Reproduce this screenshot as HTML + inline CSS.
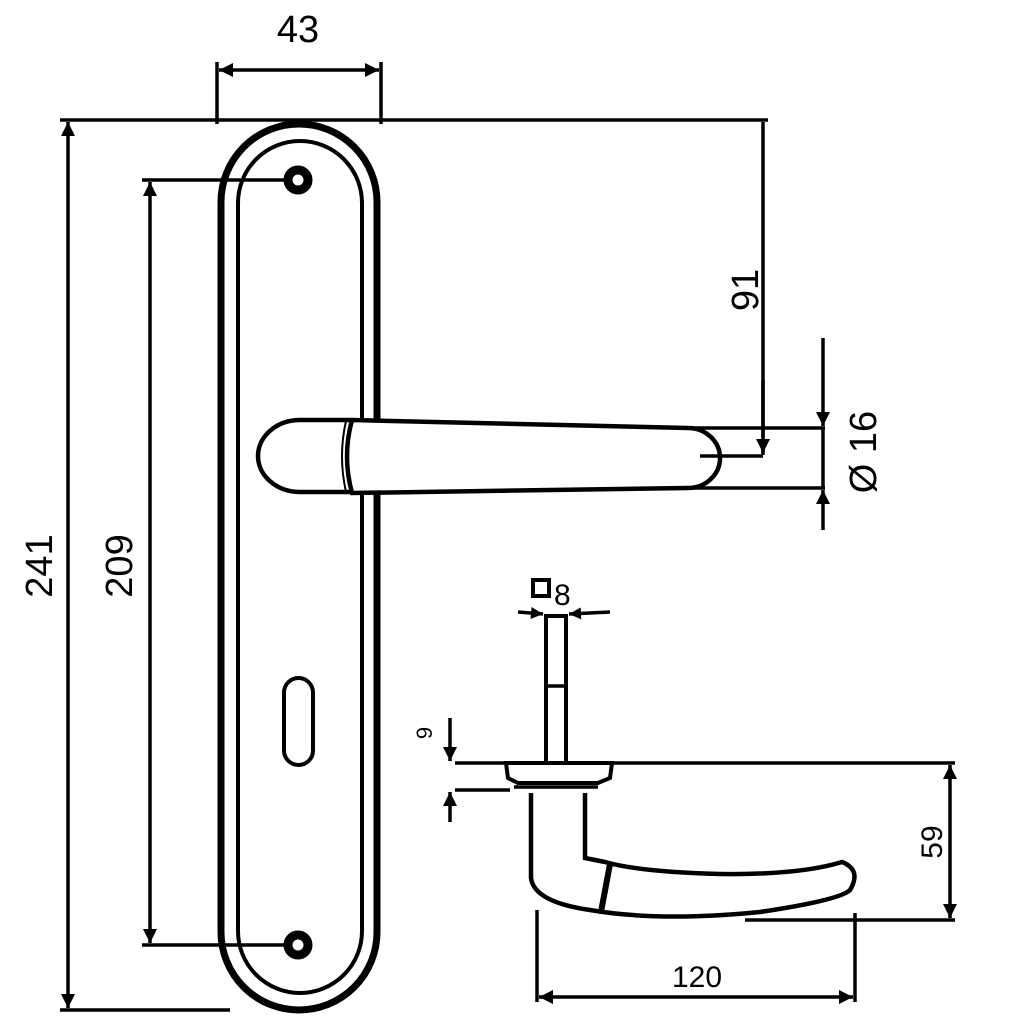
<!DOCTYPE html>
<html><head><style>body{margin:0;background:#fff}svg{display:block}</style></head><body>
<svg width="1024" height="1024" viewBox="0 0 1024 1024" xmlns="http://www.w3.org/2000/svg" font-family="Liberation Sans, sans-serif">
<defs>
<marker id="a" viewBox="0 0 10 10" refX="10" refY="5" markerWidth="14" markerHeight="12" orient="auto-start-reverse" markerUnits="userSpaceOnUse"><path d="M0,0 L10,5 L0,10z" fill="#000"/></marker>
<marker id="b" viewBox="0 0 10 10" refX="10" refY="5" markerWidth="28" markerHeight="14" orient="auto-start-reverse" markerUnits="userSpaceOnUse"><path d="M0,0 L10,5 L0,10z" fill="#000"/></marker>
</defs>
<g stroke="#000" fill="none">
<rect x="221" y="124" width="156" height="886" rx="78" stroke-width="7"/>
<rect x="238" y="141" width="124" height="852" rx="62" stroke-width="4"/>
<circle cx="298" cy="180" r="10" stroke-width="9"/>
<circle cx="298" cy="945" r="10" stroke-width="9"/>
<rect x="284" y="678" width="29" height="87" rx="14.5" stroke-width="4"/>
<g stroke-width="3.5">
<line x1="217" y1="62" x2="217" y2="124"/><line x1="381" y1="62" x2="381" y2="124"/>
<line x1="219" y1="70" x2="379" y2="70" marker-start="url(#b)" marker-end="url(#b)"/>
<line x1="60" y1="120" x2="768" y2="120"/>
<line x1="60" y1="1010" x2="230" y2="1010"/>
<line x1="68" y1="122" x2="68" y2="1008" marker-start="url(#b)" marker-end="url(#b)"/>
<line x1="142" y1="180" x2="290" y2="180"/>
<line x1="142" y1="945" x2="290" y2="945"/>
<line x1="150" y1="182" x2="150" y2="943" marker-start="url(#b)" marker-end="url(#b)"/>
<line x1="763" y1="122" x2="763" y2="455" />
<line x1="763" y1="380" x2="763" y2="453" marker-end="url(#b)"/>
<line x1="823" y1="338" x2="823" y2="426" marker-end="url(#b)"/>
<line x1="823" y1="530" x2="823" y2="490" marker-end="url(#b)"/>
<line x1="823" y1="428" x2="823" y2="488"/>
</g>
<path d="M350,420 L300,420 A42,36 0 0 0 300,492 L350,492" stroke-width="4.5" fill="#fff"/>
<path d="M352,420 L688,428 A32,30 0 0 1 688,488 L352,493 Q342,456 352,420z" stroke-width="4.5" fill="#fff"/>
<path d="M346,421 Q338,456 346,492" stroke-width="2"/>
<line x1="690" y1="428" x2="825" y2="428" stroke-width="3.5"/>
<line x1="690" y1="488" x2="825" y2="488" stroke-width="3.5"/>
<line x1="700" y1="456" x2="763" y2="456" stroke-width="3.5"/>
<g stroke-width="3.5">
<rect x="546" y="616" width="20" height="148" stroke-width="4"/>
<line x1="546" y1="686" x2="566" y2="686"/>
<line x1="518" y1="612" x2="543" y2="614" marker-end="url(#a)"/>
<line x1="610" y1="612" x2="569" y2="614" marker-end="url(#a)"/>
<line x1="455" y1="763" x2="955" y2="763"/>
<line x1="455" y1="790" x2="510" y2="790"/>
<line x1="450" y1="718" x2="450" y2="761" marker-end="url(#b)"/>
<line x1="450" y1="822" x2="450" y2="792" marker-end="url(#b)"/>
<line x1="950" y1="765" x2="950" y2="918" marker-start="url(#b)" marker-end="url(#b)"/>
<line x1="745" y1="920" x2="955" y2="920"/>
<line x1="537" y1="910" x2="537" y2="1002"/>
<line x1="855" y1="913" x2="855" y2="1002"/>
<line x1="539" y1="997" x2="853" y2="997" marker-start="url(#b)" marker-end="url(#b)"/>
</g>
<path d="M506,763 L612,763 L610,778 L598,783 L518,783 L508,778z" stroke-width="4" fill="#fff"/>
<line x1="514" y1="787" x2="598" y2="787" stroke-width="3.5"/>
<path d="M531,793 L531,878 Q534,902 590,910 Q660,922 760,912 Q840,900 850,890 Q862,870 842,862 Q800,875 720,874 Q640,872 605,862 L585,858 L585,793" stroke-width="4.5" fill="#fff"/>
<line x1="610" y1="864" x2="601" y2="912" stroke-width="6"/>
</g>
<g fill="#000" font-size="38">
<text x="298" y="42" text-anchor="middle">43</text>
<text transform="translate(52,566) rotate(-90)" text-anchor="middle">241</text>
<text transform="translate(132,566) rotate(-90)" text-anchor="middle">209</text>
<text transform="translate(758,290) rotate(-90)" text-anchor="middle">91</text>
<text transform="translate(876,452) rotate(-90)" text-anchor="middle">Ø 16</text>
<text x="697" y="987" text-anchor="middle" font-size="30">120</text>
<text transform="translate(942,842) rotate(-90)" text-anchor="middle" font-size="30">59</text>
<text transform="translate(432,733) rotate(-90)" text-anchor="middle" font-size="22">9</text>
<text x="554" y="605" font-size="30">8</text>
</g>
<rect x="533" y="580" width="16" height="16" fill="none" stroke="#000" stroke-width="4"/>
</svg>
</body></html>
